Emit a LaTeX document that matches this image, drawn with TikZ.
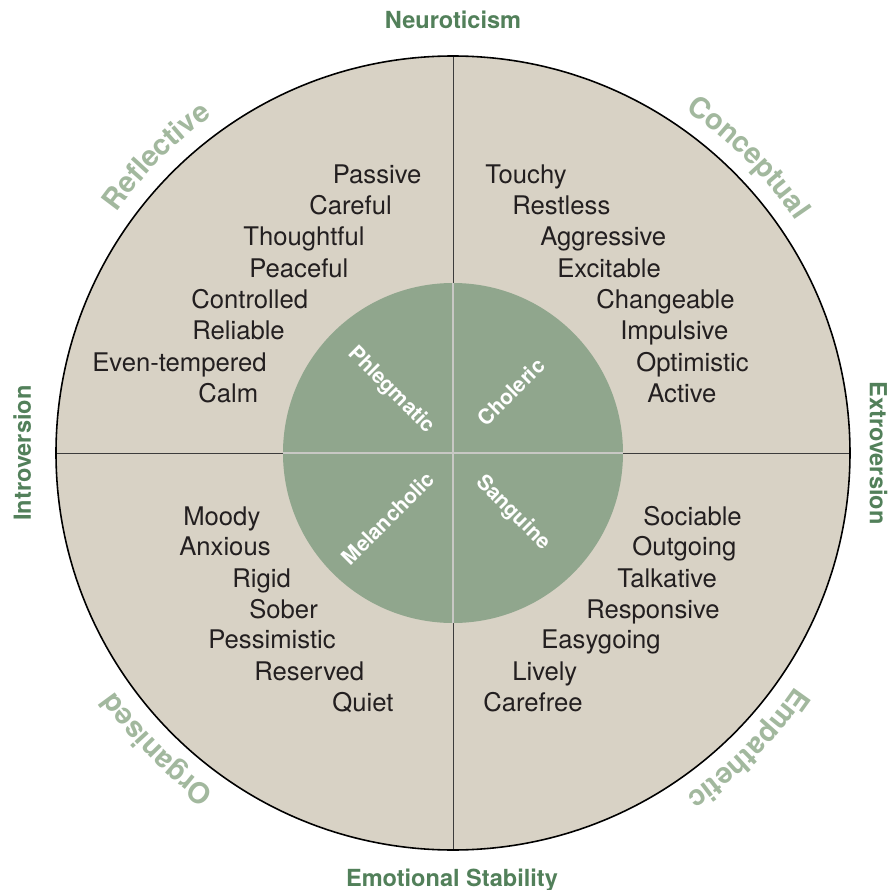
\documentclass[tikz,border=0pt]{standalone}
\usepackage{fontspec}
\setmainfont{TeX Gyre Heros}
\usepackage{xcolor}
\usepackage{tikz}
\usetikzlibrary{decorations.text, positioning}
\definecolor{wheelsand}{RGB}{216, 210, 197}
\definecolor{coresage}{RGB}{144, 166, 141}
\definecolor{axisgreen}{RGB}{82, 128, 90}
\definecolor{arcgreen}{RGB}{162, 184, 158}
\definecolor{inkgrey}{RGB}{35, 31, 32}
\definecolor{splitgrey}{RGB}{60, 60, 60}
\definecolor{coreline}{RGB}{200, 200, 196}
\newcommand{\arcfont}{\fontsize{16.4}{18}\selectfont\bfseries\color{arcgreen}}

\begin{document}
\begin{tikzpicture}
    % Styles
    \tikzstyle{trait} = [anchor=base west, inner sep=0pt, text=inkgrey, font=\fontsize{14.6}{17}\selectfont]
    \tikzstyle{axis} = [anchor=base, inner sep=0pt, text=axisgreen, font=\fontsize{13.4}{16}\selectfont\bfseries]
    \tikzstyle{temper} = [inner sep=0pt, text=white, font=\fontsize{12}{14}\selectfont\bfseries]
    \tikzstyle{arclabel} = [decorate, decoration={text along path, text align=center}]

    \useasboundingbox (-9.06,-8.74) rectangle (8.72,9.06);

    % Outer wheel and its quarters
    \coordinate (c) at (0,0);
    \coordinate (top) at (90:7.94);
    \coordinate (bottom) at (270:7.94);
    \coordinate (left) at (180:7.94);
    \coordinate (right) at (0:7.94);
    \fill[wheelsand] (c) circle (7.94);
    \draw[splitgrey, line width=0.55pt] (top) -- (bottom);
    \draw[splitgrey, line width=0.55pt] (left) -- (right);

    % Inner circle of temperaments
    \coordinate (ctop) at (90:3.4);
    \coordinate (cbottom) at (270:3.4);
    \coordinate (cleft) at (180:3.4);
    \coordinate (cright) at (0:3.4);
    \fill[coresage] (c) circle (3.4);
    \draw[coreline, line width=0.8pt] (ctop) -- (cbottom);
    \draw[coreline, line width=0.8pt] (cleft) -- (cright);
    \draw[black, line width=0.9pt] (c) circle (7.94);

    \node[temper, rotate=-45] (phleg) at (-1.24,1.26) {Phlegmatic};
    \node[temper, rotate=45] (chol) at (1.16,1.22) {Choleric};
    \node[temper, rotate=45] (mel) at (-1.30,-1.30) {Melancholic};
    \node[temper, rotate=-45] (sang) at (1.20,-1.20) {Sanguine};

    % Traits
    \foreach \wx/\wy/\word [count=\i] in {-2.41/5.40/Passive, -2.88/4.77/Careful, -4.20/4.15/Thoughtful, -4.08/3.52/Peaceful, -5.24/2.90/Controlled, -5.22/2.27/Reliable, -7.22/1.64/Even-tempered, -5.10/1.02/Calm}
        \node[trait] (phleg\i) at (\wx,\wy) {\word};
    \foreach \wx/\wy/\word [count=\i] in {0.64/5.40/Touchy, 1.18/4.77/Restless, 1.74/4.15/Aggressive, 2.08/3.52/Excitable, 2.86/2.90/Changeable, 3.34/2.27/Impulsive, 3.66/1.64/Optimistic, 3.88/1.02/Active}
        \node[trait] (chol\i) at (\wx,\wy) {\word};
    \foreach \wx/\wy/\word [count=\i] in {-5.40/-1.44/Moody, -5.48/-2.04/Anxious, -4.42/-2.68/Rigid, -4.08/-3.30/Sober, -4.90/-3.90/Pessimistic, -3.98/-4.54/Reserved, -2.42/-5.16/Quiet}
        \node[trait] (mel\i) at (\wx,\wy) {\word};
    \foreach \wx/\wy/\word [count=\i] in {3.80/-1.44/Sociable, 3.58/-2.04/Outgoing, 3.28/-2.68/Talkative, 2.66/-3.30/Responsive, 1.76/-3.90/Easygoing, 1.18/-4.54/Lively, 0.60/-5.16/Carefree}
        \node[trait] (sang\i) at (\wx,\wy) {\word};

    % Axes
    \node[axis] (neuro) at (0,8.48) {Neuroticism};
    \node[axis] (stable) at (-0.02,-8.66) {Emotional Stability};
    \node[axis, rotate=90] (intro) at (-8.44,0) {Introversion};
    \node[axis, rotate=-90] (extro) at (8.34,0) {Extroversion};

    % Labels round the rim
    \path[arclabel, decoration={text={|\arcfont|Reflective}}] (175:8.28) arc[start angle=175, end angle=95, radius=8.28];
    \path[arclabel, decoration={text={|\arcfont|Conceptual}}] (85:8.28) arc[start angle=85, end angle=5, radius=8.28];
    \path[arclabel, decoration={text={|\arcfont|Organised}}] (265:8.28) arc[start angle=265, end angle=185, radius=8.28];
    \path[arclabel, decoration={text={|\arcfont|Empathetic}}] (355:8.28) arc[start angle=355, end angle=275, radius=8.28];
\end{tikzpicture}
\end{document}
